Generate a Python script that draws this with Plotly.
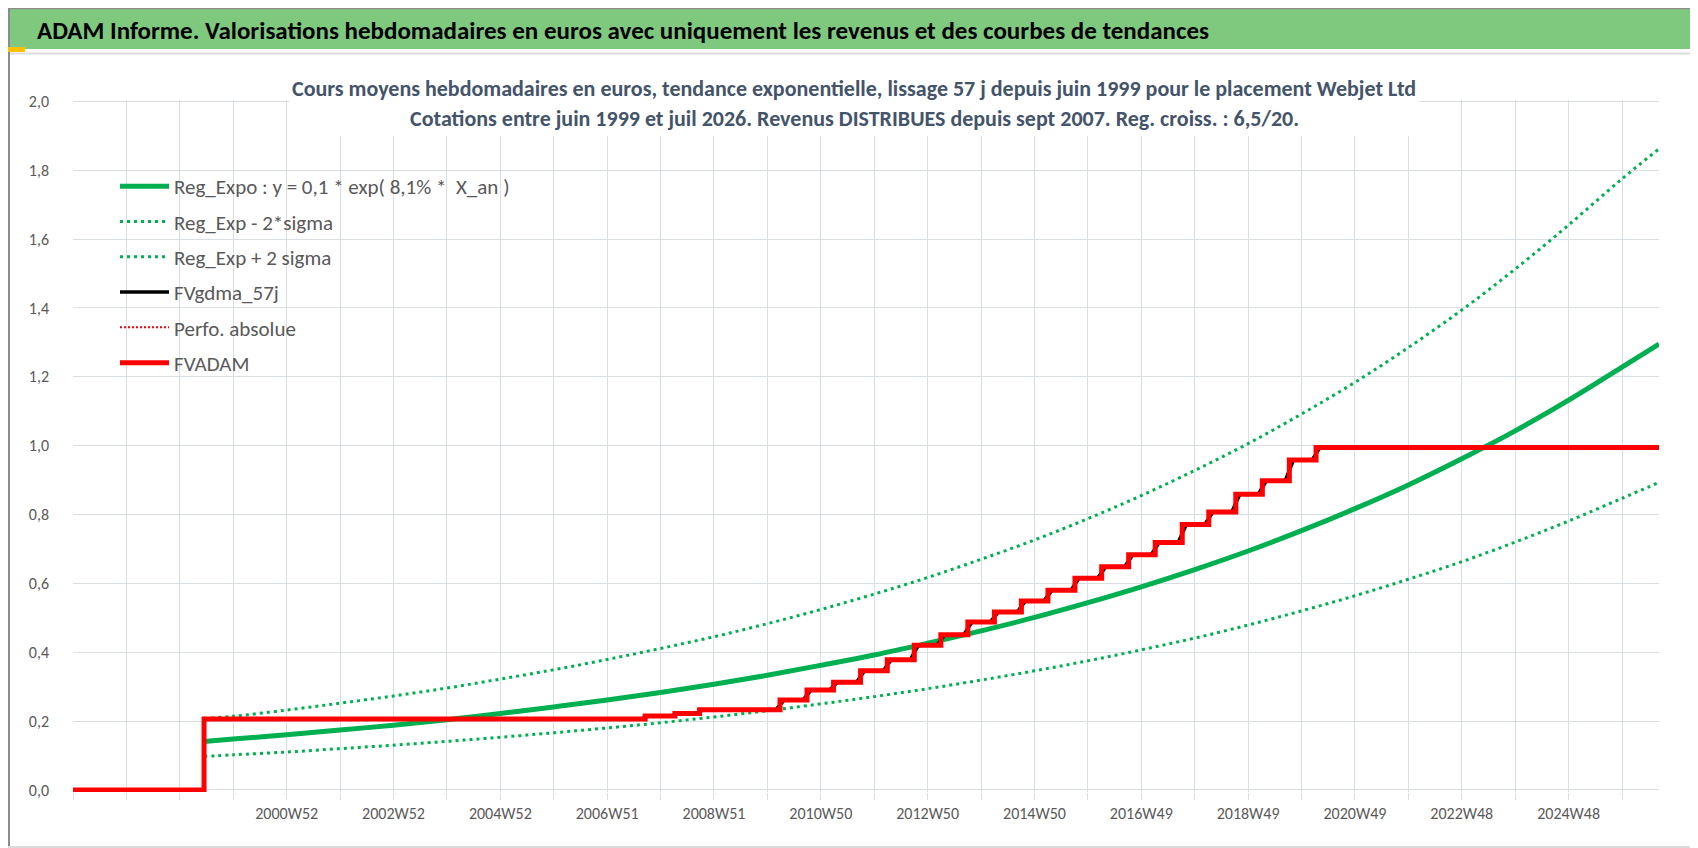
import pandas as pd
import plotly.graph_objects as go

# ---------------- data ----------------
axis_start = "1996-12-30"
axis_end = "2026-08-03"

# exponential trend and +/- 2 sigma bands, sampled at yearly gridlines
trend_dates = ["1999-06-11", "1999-12-27", "2000-12-25", "2001-12-24", "2002-12-23",
               "2003-12-22", "2004-12-20", "2005-12-19", "2006-12-18", "2007-12-17",
               "2008-12-15", "2009-12-14", "2010-12-13", "2011-12-12", "2012-12-10",
               "2013-12-09", "2014-12-08", "2015-12-07", "2016-12-05", "2017-12-04",
               "2018-12-03", "2019-12-02", "2020-11-30", "2021-11-29", "2022-11-28",
               "2023-11-27", "2024-11-25", "2025-11-24", "2026-08-03"]
trend_mid = [0.141, 0.148, 0.160, 0.174, 0.188, 0.204, 0.222, 0.241, 0.261, 0.283,
             0.307, 0.333, 0.362, 0.392, 0.426, 0.462, 0.501, 0.544, 0.590, 0.640,
             0.694, 0.753, 0.817, 0.886, 0.962, 1.043, 1.132, 1.228, 1.295]
trend_low = [0.097, 0.102, 0.110, 0.120, 0.130, 0.141, 0.153, 0.166, 0.180, 0.195,
             0.212, 0.230, 0.250, 0.271, 0.294, 0.319, 0.346, 0.375, 0.407, 0.441,
             0.479, 0.520, 0.564, 0.612, 0.663, 0.720, 0.781, 0.847, 0.893]
trend_high = [0.208, 0.214, 0.232, 0.252, 0.273, 0.296, 0.322, 0.349, 0.379, 0.411,
              0.445, 0.483, 0.524, 0.569, 0.617, 0.670, 0.726, 0.788, 0.855, 0.928,
              1.006, 1.092, 1.184, 1.285, 1.394, 1.513, 1.641, 1.775, 1.862]

# FVADAM valuation (price + distributed income): first quote then income steps
first_quote_date = "1999-06-11"
first_quote_value = 0.206
step_dates = ["2007-09-03", "2008-03-24", "2008-09-08", "2010-03-10", "2010-09-10",
              "2011-03-10", "2011-09-10", "2012-03-10", "2012-09-10", "2013-03-10",
              "2013-09-10", "2014-03-10", "2014-09-10", "2015-03-10", "2015-09-10",
              "2016-03-10", "2016-09-10", "2017-03-10", "2017-09-10", "2018-03-10",
              "2018-09-10", "2019-03-10", "2019-09-10", "2020-03-10"]
step_values = [0.215, 0.222, 0.233, 0.261, 0.290, 0.313, 0.346, 0.378, 0.420, 0.451,
               0.488, 0.517, 0.549, 0.580, 0.615, 0.648, 0.683, 0.719, 0.771, 0.807,
               0.859, 0.898, 0.958, 0.995]
smoothing_days = 57

# axis ticks
grid_start = "1996-12-30"
grid_count = 30
tick_labels = ["2000W52", "2002W52", "2004W52", "2006W51", "2008W51", "2010W50",
               "2012W50", "2014W50", "2016W49", "2018W49", "2020W49", "2022W48",
               "2024W48"]
y_ticks = [0.0, 0.2, 0.4, 0.6, 0.8, 1.0, 1.2, 1.4, 1.6, 1.8, 2.0]

legend_names = ["Reg_Expo : y = 0,1 * exp( 8,1% *  X_an )", "Reg_Exp - 2*sigma",
                "Reg_Exp + 2 sigma", "FVgdma_57j", "Perfo. absolue", "FVADAM"]

title_text = ("ADAM Informe. Valorisations hebdomadaires en euros avec uniquement "
              "les revenus et des courbes de tendances")
sub1 = ("Cours moyens hebdomadaires en euros, tendance exponentielle, lissage 57 j "
        "depuis juin 1999 pour le placement Webjet Ltd")
sub2 = ("Cotations entre juin 1999 et juil 2026. Revenus DISTRIBUES depuis sept 2007. "
        "Reg. croiss. : 6,5/20.")

# ---------------- derived series ----------------
red_x = [axis_start, first_quote_date] + step_dates + [axis_end]
red_y = [0.0, first_quote_value] + step_values + [step_values[-1]]

half = pd.Timedelta(days=smoothing_days // 2)
blk_x = [pd.Timestamp(axis_start), pd.Timestamp(first_quote_date), pd.Timestamp(first_quote_date)]
blk_y = [0.0, 0.0, first_quote_value]
prev = first_quote_value
for d, v in zip(step_dates, step_values):
    t = pd.Timestamp(d)
    blk_x += [t - half, t + half]
    blk_y += [prev, v]
    prev = v
blk_x.append(pd.Timestamp(axis_end))
blk_y.append(prev)

grid_dates = pd.date_range(grid_start, periods=grid_count, freq="364D")
tick_text = []
lab_i = 0
for i in range(grid_count):
    if i >= 4 and (i - 4) % 2 == 0 and lab_i < len(tick_labels):
        tick_text.append(tick_labels[lab_i])
        lab_i += 1
    else:
        tick_text.append("")

# ---------------- figure ----------------
W, H = 1698, 848
ML, MR, MT, MB = 65, 47, 92, 64
PW, PH = W - ML - MR, H - MT - MB


def px_x(p):
    return (p - ML) / PW


def px_y(p):
    return (H - MB - p) / PH


GREEN = "#00B050"
FONT = "Carlito, Lato, sans-serif"

fig = go.Figure()
fig.add_trace(go.Scatter(x=trend_dates, y=trend_mid, mode="lines", name=legend_names[0],
                         line=dict(color=GREEN, width=5, shape="spline"),
                         legendgroup="g1"))
fig.add_trace(go.Scatter(x=trend_dates, y=trend_low, mode="lines", name=legend_names[1],
                         line=dict(color=GREEN, width=3, dash="3px,4px", shape="spline"),
                         legendgroup="g2"))
fig.add_trace(go.Scatter(x=trend_dates, y=trend_high, mode="lines", name=legend_names[2],
                         line=dict(color=GREEN, width=3, dash="3px,4px", shape="spline"),
                         legendgroup="g3"))
fig.add_trace(go.Scatter(x=blk_x, y=blk_y, mode="lines", name=legend_names[3],
                         line=dict(color="#000000", width=3.5), legendgroup="g4"))
fig.add_trace(go.Scatter(x=red_x, y=red_y, mode="lines", name=legend_names[4],
                         line=dict(color="#FF0000", width=2, dash="2px,2px", shape="hv"),
                         legendgroup="g5"))
fig.add_trace(go.Scatter(x=red_x, y=red_y, mode="lines", name=legend_names[5],
                         line=dict(color="#FF0000", width=5, shape="hv"),
                         legendgroup="g6"))

shapes = [
    # title bar
    dict(type="rect", xref="paper", yref="paper", x0=px_x(0), x1=px_x(W),
         y0=px_y(41), y1=px_y(0), fillcolor="#7FC97F", line=dict(width=0)),
    dict(type="line", xref="paper", yref="paper", x0=px_x(0), x1=px_x(W),
         y0=px_y(0.5), y1=px_y(0.5), line=dict(color="#8C8C8C", width=1.5)),
    dict(type="line", xref="paper", yref="paper", x0=px_x(0), x1=px_x(W),
         y0=px_y(45.5), y1=px_y(45.5), line=dict(color="#DCDCDC", width=2)),
    # chart frame
    dict(type="line", xref="paper", yref="paper", x0=px_x(1), x1=px_x(1),
         y0=px_y(0), y1=px_y(H), line=dict(color="#8C8C8C", width=2)),
    dict(type="line", xref="paper", yref="paper", x0=px_x(0), x1=px_x(W),
         y0=px_y(847), y1=px_y(847), line=dict(color="#8C8C8C", width=2)),
    dict(type="line", xref="paper", yref="paper", x0=px_x(0), x1=px_x(1695),
         y0=px_y(839), y1=px_y(839), line=dict(color="#DCDCDC", width=2)),
    dict(type="line", xref="paper", yref="paper", x0=px_x(1695), x1=px_x(1695),
         y0=px_y(45), y1=px_y(839), line=dict(color="#DCDCDC", width=2)),
    # selection marks
    dict(type="rect", xref="paper", yref="paper", x0=px_x(0), x1=px_x(17),
         y0=px_y(44), y1=px_y(39), fillcolor="#FFC000", line=dict(width=0)),
    dict(type="rect", xref="paper", yref="paper", x0=px_x(1686), x1=px_x(1696),
         y0=px_y(53), y1=px_y(40), fillcolor="#FFC000", line=dict(width=0)),
    dict(type="rect", xref="paper", yref="paper", x0=px_x(0), x1=px_x(18),
         y0=px_y(846), y1=px_y(840), fillcolor="#FFC000", line=dict(width=0)),
    dict(type="rect", xref="paper", yref="paper", x0=px_x(1688), x1=px_x(1696),
         y0=px_y(846), y1=px_y(812), fillcolor="#FFC000", line=dict(width=0)),
    dict(type="line", xref="paper", yref="paper", x0=px_x(656), x1=px_x(770),
         y0=px_y(845), y1=px_y(845), line=dict(color="#FFF0A0", width=2)),
    dict(type="line", xref="paper", yref="paper", x0=px_x(996), x1=px_x(1110),
         y0=px_y(845), y1=px_y(845), line=dict(color="#FFF0A0", width=2)),
    # white box behind the chart title
    dict(type="rect", xref="paper", yref="paper", x0=px_x(281), x1=px_x(1411),
         y0=px_y(128), y1=px_y(58), fillcolor="#FFFFFF", line=dict(width=0),
         layer="above"),
]

annotations = [
    dict(text="<b>" + title_text + "</b>", xref="paper", yref="paper", x=px_x(27),
         y=px_y(22), xanchor="left", yanchor="middle", showarrow=False,
         font=dict(family=FONT, size=25, color="#000000")),
    dict(text="<b>" + sub1 + "</b>", xref="paper", yref="paper", x=px_x(846), y=px_y(80),
         xanchor="center", yanchor="middle", showarrow=False,
         font=dict(family=FONT, size=22, color="#44546A")),
    dict(text="<b>" + sub2 + "</b>", xref="paper", yref="paper", x=px_x(846), y=px_y(110),
         xanchor="center", yanchor="middle", showarrow=False,
         font=dict(family=FONT, size=22, color="#44546A")),
]

GRID = "#D9DDE4"
fig.update_layout(
    width=W, height=H,
    margin=dict(l=ML, r=MR, t=MT, b=MB, autoexpand=False),
    paper_bgcolor="#FFFFFF", plot_bgcolor="#FFFFFF",
    separators=", ",
    font=dict(family=FONT, color="#595959"),
    shapes=shapes, annotations=annotations,
    showlegend=True,
    legend=dict(x=px_x(107), y=px_y(158), xanchor="left", yanchor="top",
                bgcolor="rgba(0,0,0,0)", font=dict(family=FONT, size=21, color="#595959"),
                itemwidth=49, tracegroupgap=5, traceorder="grouped"),
    xaxis=dict(type="date", range=[axis_start, axis_end], tickmode="array",
               tickvals=list(grid_dates), ticktext=tick_text, showgrid=True,
               gridcolor=GRID, gridwidth=1.3, ticks="outside", ticklen=7,
               tickcolor=GRID, tickwidth=1.3, showline=False, zeroline=False,
               tickfont=dict(family=FONT, size=16, color="#595959"),
               ticklabelstandoff=0),
    yaxis=dict(range=[-0.006, 2.004], tickmode="array", tickvals=y_ticks,
               tickformat=".1f", showgrid=True, gridcolor=GRID, gridwidth=1.3,
               zeroline=False, showline=False, ticks="",
               tickfont=dict(family=FONT, size=16, color="#595959"),
               ticklabelstandoff=23),
)

fig.write_html("out.html")
